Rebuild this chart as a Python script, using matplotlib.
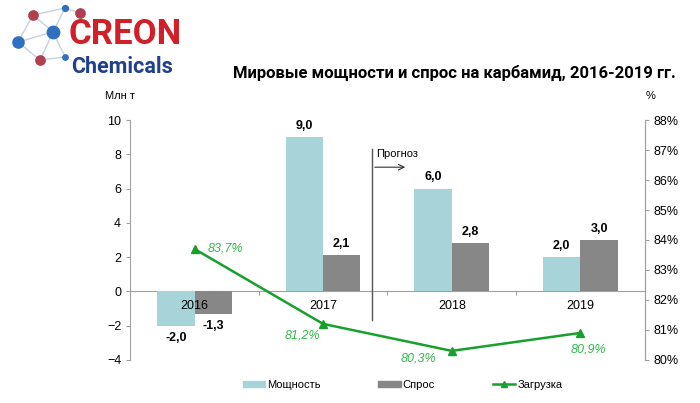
import matplotlib.pyplot as plt
import matplotlib.patches as mpatches
from matplotlib.lines import Line2D
import numpy as np

years = ['2016', '2017', '2018', '2019']
capacity = [-2.0, 9.0, 6.0, 2.0]
demand = [-1.3, 2.1, 2.8, 3.0]
load = [83.7, 81.2, 80.3, 80.9]

c_cap = '#a6d4d8'
c_dem = '#878787'
c_line = '#17a02c'
c_lbl = '#34b84c'

fig = plt.figure(figsize=(7, 4.03), dpi=100)
ax = fig.add_axes([0.186, 0.107, 0.735, 0.595])
x = np.arange(len(years))
w = 0.29

ax.bar(x - w / 2, capacity, w, color=c_cap, zorder=2)
ax.bar(x + w / 2, demand, w, color=c_dem, zorder=2)

for i in range(len(years)):
    for xx, v in [(x[i] - w / 2, capacity[i]), (x[i] + w / 2, demand[i])]:
        off = 0.3 if v >= 0 else -0.35
        ax.text(xx, v + off, f'{v:.1f}'.replace('.', ','), ha='center',
                va='bottom' if v >= 0 else 'top', fontsize=9, fontweight='bold',
                family='Liberation Sans')
    ax.text(x[i], -0.5, years[i], ha='center', va='top', fontsize=9,
            family='Liberation Sans', zorder=3)

ax.set_xlim(-0.5, 3.5)
ax.set_ylim(-4, 10)
ax.set_yticks(range(-4, 11, 2))
ax.set_xticks([0.5, 1.5, 2.5])
ax.set_xticklabels([])
ax.spines['top'].set_visible(False)
ax.spines['bottom'].set_position(('data', 0))
for s in ['left', 'right', 'bottom']:
    ax.spines[s].set_color('#a0a0a0')
ax.spines['bottom'].set_zorder(1)
ax.tick_params(axis='x', length=3, color='#a0a0a0', direction='out')
ax.tick_params(axis='y', length=3, color='#a0a0a0', labelsize=9)
for t in ax.get_yticklabels():
    t.set_family('Liberation Sans')

# forecast divider
ax.plot([1.38, 1.38], [8.3, -1.7], color='#555555', lw=1, zorder=3)
ax.annotate('', xy=(1.66, 7.25), xytext=(1.38, 7.25),
            arrowprops=dict(arrowstyle='->', color='#333333', lw=0.8))
ax.text(1.41, 7.7, 'Прогноз', fontsize=8, va='bottom', family='Liberation Sans')

ax2 = ax.twinx()
ax2.set_ylim(80, 88)
ax2.set_yticks(range(80, 89))
ax2.set_yticklabels([f'{v}%' for v in range(80, 89)])
ax2.spines['top'].set_visible(False)
ax2.spines['bottom'].set_visible(False)
ax2.spines['left'].set_visible(False)
ax2.spines['right'].set_color('#a0a0a0')
ax2.tick_params(axis='y', length=3, color='#a0a0a0', labelsize=9)
for t in ax2.get_yticklabels():
    t.set_family('Liberation Sans')
ax2.plot(x, load, color=c_line, lw=1.8, marker='^', ms=6, zorder=4)

lbl_pos = [(0.1, 0.0, 'left', 'center'), (-0.02, -0.2, 'right', 'top'),
           (-0.12, -0.05, 'right', 'top'), (0.06, -0.35, 'center', 'top')]
for i, (dx, dy, ha, va) in enumerate(lbl_pos):
    ax2.text(x[i] + dx, load[i] + dy, f'{load[i]:.1f}%'.replace('.', ','),
             color=c_lbl, fontsize=9, style='italic', ha=ha, va=va,
             family='Liberation Sans')

fig.text(0.172, 0.755, 'Млн т', fontsize=8, ha='center', family='Liberation Sans')
fig.text(0.93, 0.755, '%', fontsize=8, ha='center', family='Liberation Sans')
fig.text(0.649, 0.818, 'Мировые мощности и спрос на карбамид, 2016-2019 гг.',
         fontsize=12, fontweight='bold', ha='center', va='center',
         family='Roboto')

# logo
fig.text(0.098, 0.915, 'CREON', fontsize=25, fontweight='bold', color='#d0202a',
         ha='left', va='center', family='Roboto')
fig.text(0.102, 0.833, 'Chemicals', fontsize=15.5, fontweight='bold', color='#1f3f8f',
         ha='left', va='center', family='Roboto')
lax = fig.add_axes([0, 0.8, 0.143, 0.2])
lax.set_xlim(0, 100)
lax.set_ylim(80.6, 0)
lax.axis('off')
nodes = [(33, 15, '#b04050', 45), (65, 8, '#3070c0', 18), (80, 13, '#b04050', 45),
         (53, 32, '#3070c0', 80), (18, 42, '#3070c0', 65), (40, 60, '#b04050', 45),
         (65, 57, '#3070c0', 15)]
edges = [(0, 1), (1, 2), (0, 3), (1, 3), (3, 4), (4, 0), (4, 5), (3, 5), (5, 6), (3, 6)]
for a, b in edges:
    lax.plot([nodes[a][0], nodes[b][0]], [nodes[a][1], nodes[b][1]],
             color='#c8d0e0', lw=1, zorder=1)
for nx, ny, c, s in nodes:
    lax.scatter(nx, ny, s=s, color=c, zorder=2)

handles = [mpatches.Patch(color=c_cap, label='Мощность'),
           mpatches.Patch(color=c_dem, label='Спрос'),
           Line2D([0], [0], color=c_line, lw=1.8, marker='^', ms=5, label='Загрузка')]
fig.legend(handles=handles, loc='center', bbox_to_anchor=(0.575, 0.045), ncol=3,
           frameon=False, columnspacing=5.2, handlelength=2,
           handleheight=0.5, handletextpad=0.2, prop={'family': 'Liberation Sans', 'size': 8})

fig.savefig('out.png', dpi=100)
